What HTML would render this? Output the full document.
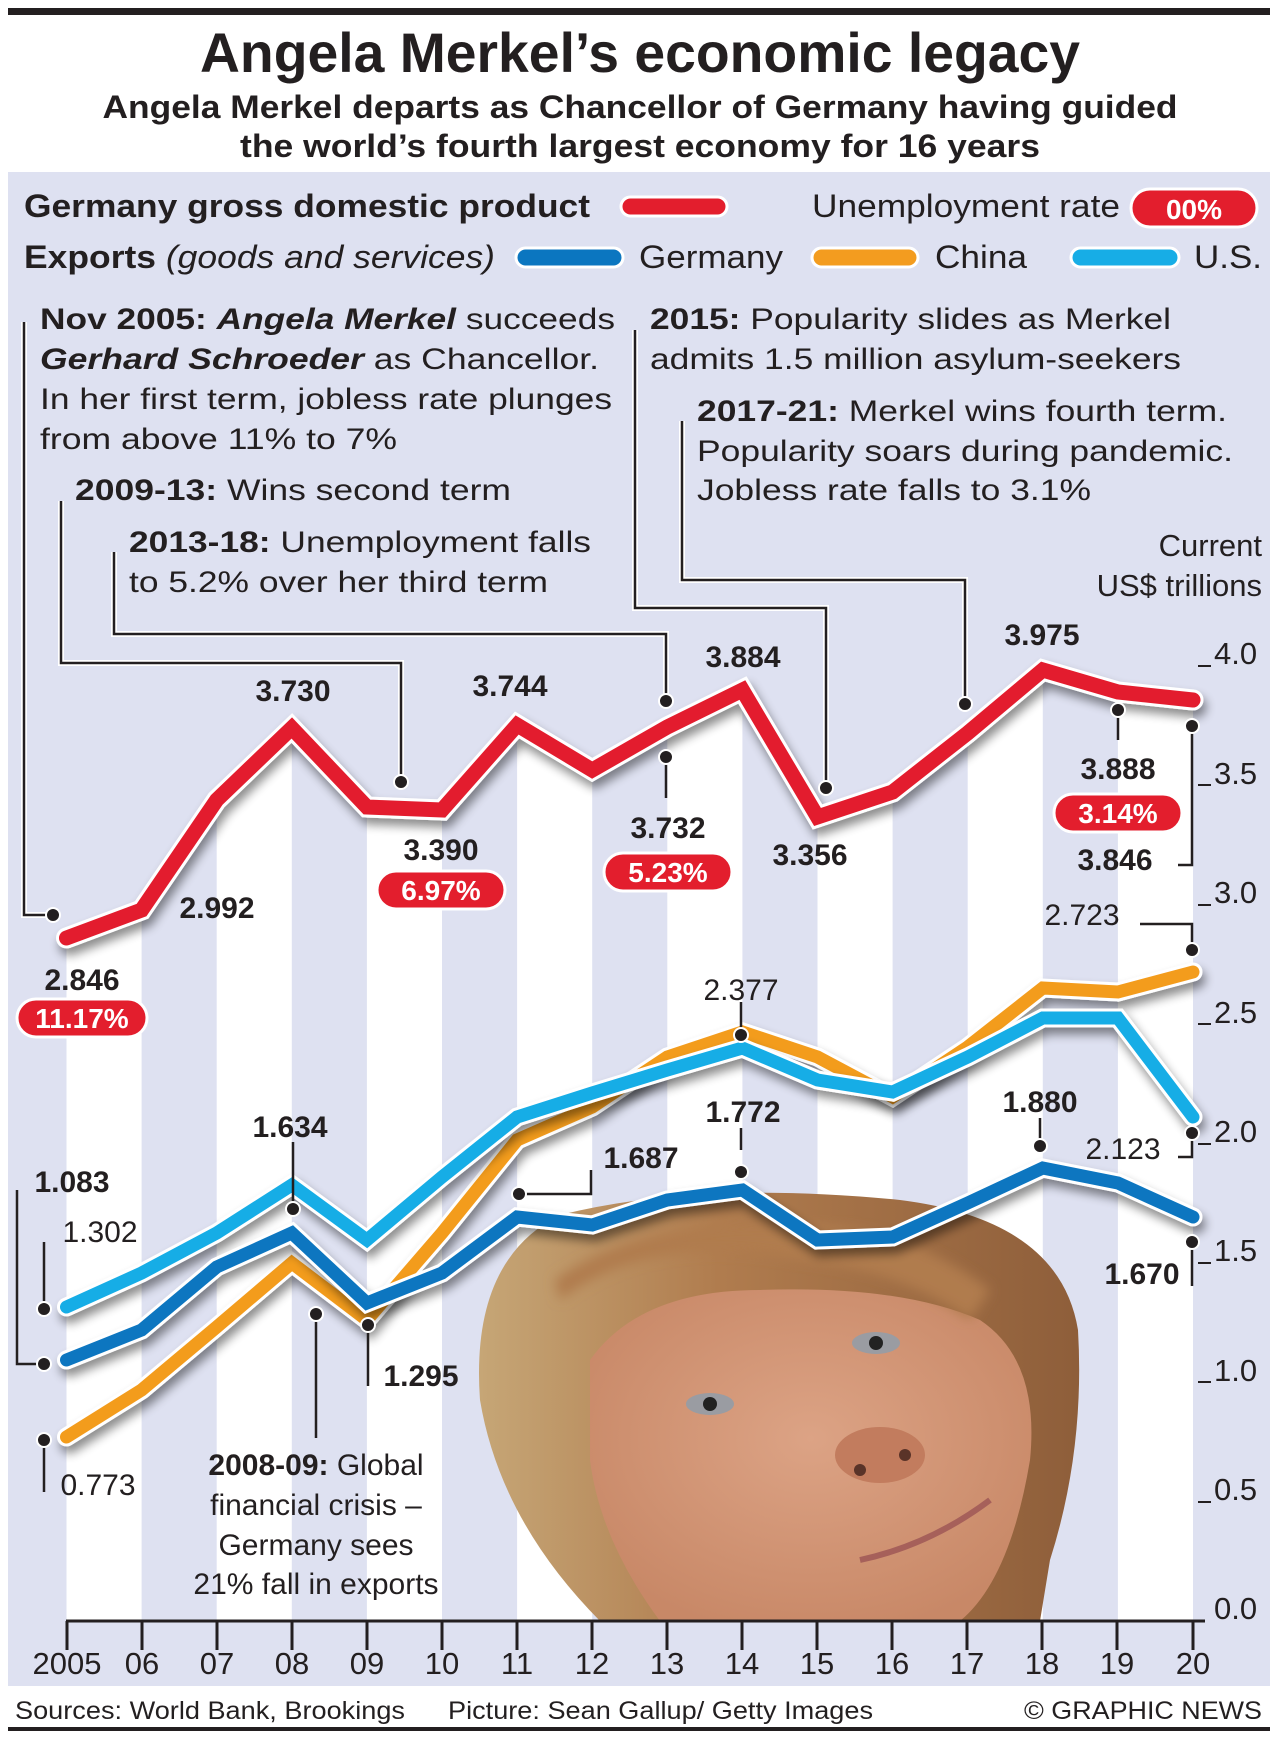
<!DOCTYPE html>
<html><head><meta charset="utf-8"><style>
html,body{margin:0;padding:0;background:#fff}
svg{display:block}
text{font-family:"Liberation Sans",Arial,sans-serif;fill:#231f20}
.b{font-weight:bold}
.ann{font-size:30px}
.val{font-size:30px;font-weight:bold}
.vr{font-size:30px}
.ax{font-size:31px}
</style></head><body>
<svg width="1278" height="1738" viewBox="0 0 1278 1738" xmlns="http://www.w3.org/2000/svg">
<defs>
<filter id="sh" x="-10%" y="-10%" width="120%" height="130%">
<feGaussianBlur in="SourceAlpha" stdDeviation="5"/>
<feOffset dx="3" dy="7" result="o"/>
<feComponentTransfer><feFuncA type="linear" slope="0.45"/></feComponentTransfer>
<feMerge><feMergeNode/><feMergeNode in="SourceGraphic"/></feMerge>
</filter>
<filter id="soft"><feGaussianBlur stdDeviation="6"/></filter>
<clipPath id="under"><polygon points="66.5,938 141.6,910 216.7,800 291.8,728 366.9,807 442,810 517.1,725 592.2,770 667.3,727 742.4,690 817.5,817 892.6,792 967.7,733 1042.8,670 1117.9,692 1193,700 1193,1621 66.5,1621"/></clipPath>
<clipPath id="plot"><rect x="0" y="0" width="1278" height="1621"/></clipPath>
<linearGradient id="hair" x1="0" y1="0" x2="1" y2="0"><stop offset="0" stop-color="#c6a676"/><stop offset="0.4" stop-color="#b07c4e"/><stop offset="1" stop-color="#8e5e3a"/></linearGradient>
<radialGradient id="skin" cx="0.5" cy="0.45" r="0.6"><stop offset="0" stop-color="#dca385"/><stop offset="1" stop-color="#c88867"/></radialGradient>
</defs>

<rect x="8" y="8" width="1262" height="7" fill="#231f20"/>
<text x="640" y="72" text-anchor="middle" class="b" font-size="56" textLength="880" lengthAdjust="spacingAndGlyphs">Angela Merkel’s economic legacy</text>
<text x="640" y="118" text-anchor="middle" class="b" font-size="32" textLength="1075" lengthAdjust="spacingAndGlyphs">Angela Merkel departs as Chancellor of Germany having guided</text>
<text x="640" y="157" text-anchor="middle" class="b" font-size="32" textLength="800" lengthAdjust="spacingAndGlyphs">the world’s fourth largest economy for 16 years</text>

<rect x="8" y="172" width="1262" height="1514" fill="#dee1f1"/>

<g clip-path="url(#under)" fill="#fff">
<rect x="66.5" y="600" width="75.1" height="1021"/>
<rect x="216.7" y="600" width="75.1" height="1021"/>
<rect x="366.9" y="600" width="75.1" height="1021"/>
<rect x="517.1" y="600" width="75.1" height="1021"/>
<rect x="667.3" y="600" width="75.1" height="1021"/>
<rect x="817.5" y="600" width="75.1" height="1021"/>
<rect x="967.7" y="600" width="75.1" height="1021"/>
<rect x="1117.9" y="600" width="75.1" height="1021"/>
</g>

<!-- photo approximation -->
<g clip-path="url(#plot)">
<path d="M480 1400 Q470 1260 560 1215 Q700 1180 900 1200 Q1060 1220 1078 1330 Q1085 1450 1050 1560 L1040 1621 L600 1621 Q500 1520 480 1400Z" fill="url(#hair)"/>
<path d="M590 1360 Q640 1290 760 1290 Q900 1285 980 1320 Q1040 1360 1030 1460 Q1010 1580 960 1621 L660 1621 Q600 1540 590 1460Z" fill="url(#skin)"/>
<path d="M560 1300 Q650 1230 800 1260 Q900 1270 970 1320 L990 1290 Q900 1220 780 1225 Q640 1220 555 1280Z" fill="#b07c4e" filter="url(#soft)"/>
<ellipse cx="710" cy="1404" rx="24" ry="11" fill="#9a9ca2"/>
<ellipse cx="876" cy="1343" rx="24" ry="11" fill="#9a9ca2"/>
<circle cx="710" cy="1404" r="7" fill="#222"/>
<circle cx="876" cy="1343" r="7" fill="#222"/>
<ellipse cx="880" cy="1455" rx="45" ry="28" fill="#c27c5e"/>
<circle cx="860" cy="1470" r="6" fill="#5a3328"/><circle cx="905" cy="1455" r="6" fill="#5a3328"/>
<path d="M860 1560 Q930 1545 990 1500" stroke="#a6605a" stroke-width="6" fill="none"/>
</g>

<g stroke="#231f20" stroke-width="3">
<line x1="66" y1="1621" x2="1205" y2="1621"/>
<line x1="67" y1="1621" x2="67" y2="1650"/><line x1="142" y1="1621" x2="142" y2="1650"/><line x1="217" y1="1621" x2="217" y2="1650"/><line x1="292" y1="1621" x2="292" y2="1650"/><line x1="367" y1="1621" x2="367" y2="1650"/><line x1="442" y1="1621" x2="442" y2="1650"/><line x1="517" y1="1621" x2="517" y2="1650"/><line x1="592" y1="1621" x2="592" y2="1650"/><line x1="667" y1="1621" x2="667" y2="1650"/><line x1="742" y1="1621" x2="742" y2="1650"/><line x1="817" y1="1621" x2="817" y2="1650"/><line x1="892" y1="1621" x2="892" y2="1650"/><line x1="967" y1="1621" x2="967" y2="1650"/><line x1="1042" y1="1621" x2="1042" y2="1650"/><line x1="1117" y1="1621" x2="1117" y2="1650"/><line x1="1193" y1="1621" x2="1193" y2="1650"/>
</g>
<g class="ax" text-anchor="middle">
<text x="67" y="1674">2005</text><text x="142" y="1674">06</text><text x="217" y="1674">07</text><text x="292" y="1674">08</text><text x="367" y="1674">09</text><text x="442" y="1674">10</text><text x="517" y="1674">11</text><text x="592" y="1674">12</text><text x="667" y="1674">13</text><text x="742" y="1674">14</text><text x="817" y="1674">15</text><text x="892" y="1674">16</text><text x="967" y="1674">17</text><text x="1042" y="1674">18</text><text x="1117" y="1674">19</text><text x="1193" y="1674">20</text>
</g>
<g class="ax">
<text x="1214" y="664">4.0</text><text x="1214" y="784">3.5</text><text x="1214" y="903">3.0</text><text x="1214" y="1023">2.5</text><text x="1214" y="1142">2.0</text><text x="1214" y="1261">1.5</text><text x="1214" y="1381">1.0</text><text x="1214" y="1500">0.5</text><text x="1214" y="1619">0.0</text>
</g>
<g stroke="#231f20" stroke-width="2">
<line x1="1198" y1="666" x2="1211" y2="666"/><line x1="1198" y1="785" x2="1211" y2="785"/><line x1="1198" y1="905" x2="1211" y2="905"/><line x1="1198" y1="1024" x2="1211" y2="1024"/><line x1="1198" y1="1144" x2="1211" y2="1144"/><line x1="1198" y1="1263" x2="1211" y2="1263"/><line x1="1198" y1="1382" x2="1211" y2="1382"/><line x1="1198" y1="1502" x2="1211" y2="1502"/>
</g>
<text x="1262" y="556" text-anchor="end" font-size="31">Current</text>
<text x="1262" y="596" text-anchor="end" font-size="31">US$ trillions</text>

<text x="24" y="217" class="b" font-size="32" textLength="566" lengthAdjust="spacingAndGlyphs">Germany gross domestic product</text>
<rect x="621" y="197" width="106" height="19" rx="9.5" fill="#e31e2d" stroke="#fff" stroke-width="3"/>
<text x="812" y="217" font-size="32" textLength="308" lengthAdjust="spacingAndGlyphs">Unemployment rate</text>
<rect x="1131" y="189" width="126" height="38" rx="19" fill="#e31e2d" stroke="#fff" stroke-width="3"/>
<text x="1194" y="219" text-anchor="middle" class="b" font-size="28" style="fill:#fff">00%</text>
<text x="24" y="268" font-size="32" textLength="471" lengthAdjust="spacingAndGlyphs"><tspan class="b">Exports</tspan> <tspan font-style="italic">(goods and services)</tspan></text>
<rect x="516" y="248" width="107" height="19" rx="9.5" fill="#0b76c0" stroke="#fff" stroke-width="3"/>
<text x="639" y="268" font-size="32" textLength="144" lengthAdjust="spacingAndGlyphs">Germany</text>
<rect x="812" y="248" width="106" height="19" rx="9.5" fill="#f39c1f" stroke="#fff" stroke-width="3"/>
<text x="935" y="268" font-size="32" textLength="92" lengthAdjust="spacingAndGlyphs">China</text>
<rect x="1071" y="248" width="108" height="19" rx="9.5" fill="#17ade6" stroke="#fff" stroke-width="3"/>
<text x="1194" y="268" font-size="32" textLength="68" lengthAdjust="spacingAndGlyphs">U.S.</text>

<g class="ann">
<text x="40" y="329" textLength="575" lengthAdjust="spacingAndGlyphs"><tspan class="b">Nov 2005: </tspan><tspan class="b" font-style="italic">Angela Merkel</tspan> succeeds</text>
<text x="40" y="369" textLength="559" lengthAdjust="spacingAndGlyphs"><tspan class="b" font-style="italic">Gerhard Schroeder</tspan> as Chancellor.</text>
<text x="40" y="409" textLength="572" lengthAdjust="spacingAndGlyphs">In her first term, jobless rate plunges</text>
<text x="40" y="449" textLength="357" lengthAdjust="spacingAndGlyphs">from above 11% to 7%</text>
<text x="75" y="500" textLength="436" lengthAdjust="spacingAndGlyphs"><tspan class="b">2009-13:</tspan> Wins second term</text>
<text x="129" y="552" textLength="462" lengthAdjust="spacingAndGlyphs"><tspan class="b">2013-18:</tspan> Unemployment falls</text>
<text x="129" y="592" textLength="419" lengthAdjust="spacingAndGlyphs">to 5.2% over her third term</text>
<text x="650" y="329" textLength="521" lengthAdjust="spacingAndGlyphs"><tspan class="b">2015:</tspan> Popularity slides as Merkel</text>
<text x="650" y="369" textLength="531" lengthAdjust="spacingAndGlyphs">admits 1.5 million asylum-seekers</text>
<text x="697" y="421" textLength="530" lengthAdjust="spacingAndGlyphs"><tspan class="b">2017-21:</tspan> Merkel wins fourth term.</text>
<text x="697" y="461" textLength="536" lengthAdjust="spacingAndGlyphs">Popularity soars during pandemic.</text>
<text x="697" y="500" textLength="394" lengthAdjust="spacingAndGlyphs">Jobless rate falls to 3.1%</text>
</g>

<g fill="none" stroke="#fff" stroke-width="6">
<polyline points="24,322 24,915 53,915"/>
<polyline points="61,501 61,663 401,663 401,782"/>
<polyline points="114,552 114,634 666,634 666,701"/>
<polyline points="635,330 635,608 826,608 826,788"/>
<polyline points="682,421 682,580 965,580 965,704"/>
</g>
<g fill="none" stroke="#231f20" stroke-width="2.5">
<polyline points="24,322 24,915 53,915"/>
<polyline points="61,501 61,663 401,663 401,782"/>
<polyline points="114,552 114,634 666,634 666,701"/>
<polyline points="635,330 635,608 826,608 826,788"/>
<polyline points="682,421 682,580 965,580 965,704"/>
</g>

<g fill="none" stroke-linecap="round" stroke-linejoin="miter">
<g filter="url(#sh)">
<polyline stroke="#fff" stroke-width="19" points="66.5,1437 141.6,1390 216.7,1327 291.8,1263 366.9,1320 442,1233 517.1,1140 592.2,1107 667.3,1057 742.4,1032 817.5,1057 892.6,1097 967.7,1047 1042.8,988 1117.9,992 1193,972"/>
<polyline stroke="#f39c1f" stroke-width="13" points="66.5,1437 141.6,1390 216.7,1327 291.8,1263 366.9,1320 442,1233 517.1,1140 592.2,1107 667.3,1057 742.4,1032 817.5,1057 892.6,1097 967.7,1047 1042.8,988 1117.9,992 1193,972"/>
</g>
<g filter="url(#sh)">
<polyline stroke="#fff" stroke-width="19" points="66.5,1307 141.6,1273 216.7,1233 291.8,1185 366.9,1240 442,1177 517.1,1117 592.2,1093 667.3,1070 742.4,1048 817.5,1080 892.6,1092 967.7,1057 1042.8,1018 1117.9,1018 1193,1117"/>
<polyline stroke="#17ade6" stroke-width="13" points="66.5,1307 141.6,1273 216.7,1233 291.8,1185 366.9,1240 442,1177 517.1,1117 592.2,1093 667.3,1070 742.4,1048 817.5,1080 892.6,1092 967.7,1057 1042.8,1018 1117.9,1018 1193,1117"/>
</g>
<g filter="url(#sh)">
<polyline stroke="#fff" stroke-width="19" points="66.5,1360 141.6,1330 216.7,1267 291.8,1233 366.9,1303 442,1273 517.1,1217 592.2,1225 667.3,1200 742.4,1190 817.5,1240 892.6,1237 967.7,1203 1042.8,1168 1117.9,1183 1193,1217"/>
<polyline stroke="#0b76c0" stroke-width="13" points="66.5,1360 141.6,1330 216.7,1267 291.8,1233 366.9,1303 442,1273 517.1,1217 592.2,1225 667.3,1200 742.4,1190 817.5,1240 892.6,1237 967.7,1203 1042.8,1168 1117.9,1183 1193,1217"/>
</g>
<g filter="url(#sh)">
<polyline stroke="#fff" stroke-width="21" points="66.5,938 141.6,910 216.7,800 291.8,728 366.9,807 442,810 517.1,725 592.2,770 667.3,727 742.4,690 817.5,817 892.6,792 967.7,733 1042.8,670 1117.9,692 1193,700"/>
<polyline stroke="#e31e2d" stroke-width="15" points="66.5,938 141.6,910 216.7,800 291.8,728 366.9,807 442,810 517.1,725 592.2,770 667.3,727 742.4,690 817.5,817 892.6,792 967.7,733 1042.8,670 1117.9,692 1193,700"/>
</g>
</g>

<g fill="none" stroke="#231f20" stroke-width="2.5">
<line x1="666" y1="757" x2="666" y2="798"/>
<line x1="1118" y1="710" x2="1118" y2="740"/>
<polyline points="1192,726 1192,865 1178,865"/>
<polyline points="17,1190 17,1364 44,1364"/>
<line x1="44" y1="1242" x2="44" y2="1309"/>
<line x1="44" y1="1440" x2="44" y2="1492"/>
<line x1="293" y1="1142" x2="293" y2="1209"/>
<line x1="368" y1="1325" x2="368" y2="1386"/>
<line x1="316" y1="1314" x2="316" y2="1438"/>
<polyline points="519,1194 591,1194 591,1170"/>
<line x1="741" y1="1128" x2="741" y2="1150"/>
<line x1="741" y1="1002" x2="741" y2="1035"/>
<line x1="1040" y1="1118" x2="1040" y2="1146"/>
<polyline points="1140,924 1192,924 1192,950"/>
<polyline points="1192,1133 1192,1157 1178,1157"/>
<line x1="1192" y1="1242" x2="1192" y2="1286"/>
</g>
<g fill="#231f20" stroke="#fff" stroke-width="2">
<circle cx="53" cy="915" r="7"/><circle cx="401" cy="782" r="7"/><circle cx="666" cy="701" r="7"/><circle cx="666" cy="757" r="7"/><circle cx="826" cy="788" r="7"/><circle cx="965" cy="704" r="7"/><circle cx="1118" cy="710" r="7"/><circle cx="1192" cy="726" r="7"/>
<circle cx="44" cy="1364" r="7"/><circle cx="44" cy="1309" r="7"/><circle cx="44" cy="1440" r="7"/><circle cx="293" cy="1209" r="7"/><circle cx="368" cy="1325" r="7"/><circle cx="316" cy="1314" r="7"/><circle cx="519" cy="1194" r="7"/><circle cx="741" cy="1172" r="7"/><circle cx="741" cy="1035" r="7"/><circle cx="1040" cy="1146" r="7"/><circle cx="1192" cy="950" r="7"/><circle cx="1192" cy="1133" r="7"/><circle cx="1192" cy="1242" r="7"/>
</g>

<g class="val" text-anchor="middle">
<text x="293" y="701">3.730</text><text x="510" y="696">3.744</text><text x="743" y="667">3.884</text><text x="1042" y="645">3.975</text>
<text x="217" y="918">2.992</text><text x="82" y="990">2.846</text><text x="441" y="860">3.390</text><text x="668" y="838">3.732</text>
<text x="810" y="865">3.356</text><text x="1118" y="779">3.888</text><text x="1115" y="870">3.846</text>
<text x="72" y="1192">1.083</text><text x="290" y="1137">1.634</text><text x="421" y="1386">1.295</text><text x="641" y="1168">1.687</text>
<text x="743" y="1122">1.772</text><text x="1040" y="1112">1.880</text><text x="1142" y="1284">1.670</text>
</g>
<g class="vr" text-anchor="middle">
<text x="100" y="1242">1.302</text><text x="98" y="1495">0.773</text><text x="741" y="1000">2.377</text><text x="1082" y="925">2.723</text><text x="1123" y="1159">2.123</text>
</g>
<g fill="#e31e2d" stroke="#fff" stroke-width="3">
<rect x="17" y="999" width="130" height="38" rx="19"/>
<rect x="377" y="871" width="128" height="38" rx="19"/>
<rect x="604" y="853" width="128" height="38" rx="19"/>
<rect x="1054" y="794" width="128" height="38" rx="19"/>
</g>
<g class="b" font-size="28" text-anchor="middle">
<text x="82" y="1028" style="fill:#fff">11.17%</text>
<text x="441" y="900" style="fill:#fff">6.97%</text>
<text x="668" y="882" style="fill:#fff">5.23%</text>
<text x="1118" y="823" style="fill:#fff">3.14%</text>
</g>

<g class="ann" text-anchor="middle">
<text x="316" y="1475"><tspan class="b">2008-09:</tspan> Global</text>
<text x="316" y="1515">financial crisis –</text>
<text x="316" y="1555">Germany sees</text>
<text x="316" y="1594">21% fall in exports</text>
</g>

<text x="15" y="1719" font-size="25" textLength="390" lengthAdjust="spacingAndGlyphs">Sources: World Bank, Brookings</text>
<text x="448" y="1719" font-size="25" textLength="425" lengthAdjust="spacingAndGlyphs">Picture: Sean Gallup/ Getty Images</text>
<text x="1262" y="1719" font-size="25" text-anchor="end" textLength="238" lengthAdjust="spacingAndGlyphs">© GRAPHIC NEWS</text>
<rect x="8" y="1727" width="1262" height="4" fill="#231f20"/>
</svg>
</body></html>
